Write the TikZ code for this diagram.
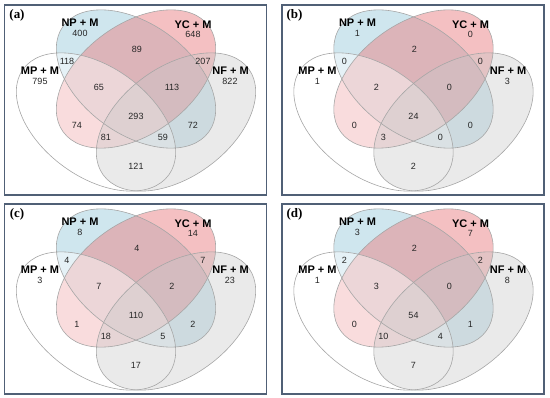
\documentclass[tikz,border=0pt]{standalone}
\usepackage{fontspec}
\setmainfont{Liberation Sans}
\newfontfamily\serifbold{Liberation Serif}
\definecolor{npblue}{RGB}{160,205,222}
\definecolor{ycred}{RGB}{234,130,133}
\definecolor{nfgrey}{RGB}{200,200,200}
\definecolor{boxline}{RGB}{80,96,118}

\begin{document}
\begin{tikzpicture}[x=1pt, y=1pt,
  setfill/.style={fill opacity=0.5},
  setline/.style={draw=gray!70, line width=0.6pt},
  setname/.style={font=\bfseries\fontsize{11}{12}\selectfont, inner sep=0pt},
  regnum/.style={font=\fontsize{9}{10}\selectfont, text=black!85, inner sep=0pt},
  panellabel/.style={font=\serifbold\bfseries\fontsize{13}{14}\selectfont, inner sep=0pt}]
  \useasboundingbox (0,0) rectangle (550,-398);
  \foreach \ox/\oy/\pnl/\vals in {
      4.5/-5/a/{400,648,795,822,89,118,207,65,113,293,74,72,81,59,121},
      282/-5/b/{1,0,1,3,2,0,0,2,0,24,0,0,3,0,2},
      4.5/-204/c/{8,14,3,23,4,4,7,7,2,110,1,2,18,5,17},
      282/-204/d/{3,7,1,8,2,2,2,3,0,54,0,1,10,4,7}} {
    \begin{scope}[shift={(\ox,\oy)}]
      % ellipse centres
      \coordinate (mid) at (131.5,-74);
      \coordinate (mpc) at (91.5,-117);
      \coordinate (nfc) at (171.5,-117);
      % fills
      \fill[setfill, npblue, rotate around={-36:(mid)}] (mid) ellipse [x radius=90, y radius=55];
      \fill[setfill, ycred, rotate around={36:(mid)}] (mid) ellipse [x radius=90, y radius=55];
      \fill[fill opacity=0.45, white, rotate around={-36:(mpc)}] (mpc) ellipse [x radius=90, y radius=55];
      \fill[fill opacity=0.38, nfgrey, rotate around={36:(nfc)}] (nfc) ellipse [x radius=90, y radius=55];
      % outlines
      \draw[setline, rotate around={-36:(mid)}] (mid) ellipse [x radius=90, y radius=55];
      \draw[setline, rotate around={36:(mid)}] (mid) ellipse [x radius=90, y radius=55];
      \draw[setline, rotate around={-36:(mpc)}] (mpc) ellipse [x radius=90, y radius=55];
      \draw[setline, rotate around={36:(nfc)}] (nfc) ellipse [x radius=90, y radius=55];
      \draw[boxline, line width=1.4pt] (0,0) rectangle (262,-190);
      % region positions
      \coordinate (r1) at (75.5,-28);
      \coordinate (r2) at (188.5,-29);
      \coordinate (r3) at (35.5,-76);
      \coordinate (r4) at (225.5,-76);
      \coordinate (r5) at (132.5,-44);
      \coordinate (r6) at (62.5,-56);
      \coordinate (r7) at (198.5,-56);
      \coordinate (r8) at (94.5,-82);
      \coordinate (r9) at (167.5,-82);
      \coordinate (r10) at (131.5,-111);
      \coordinate (r11) at (72.5,-120);
      \coordinate (r12) at (188.5,-120);
      \coordinate (r13) at (101.5,-132);
      \coordinate (r14) at (158.5,-132);
      \coordinate (r15) at (131.5,-161);
      \node[panellabel] (tag\pnl) at (12.5,-10) {(\pnl)};
      \node[setname] (np\pnl) at (75.5,-17.5) {NP + M};
      \node[setname] (yc\pnl) at (188.5,-19.5) {YC + M};
      \node[setname] (mp\pnl) at (35.5,-65.5) {MP + M};
      \node[setname] (nf\pnl) at (226,-65.5) {NF + M};
      \foreach \v [count=\k] in \vals
        \node[regnum] (n\pnl\k) at (r\k) {\v};
    \end{scope}
  }
\end{tikzpicture}
\end{document}
